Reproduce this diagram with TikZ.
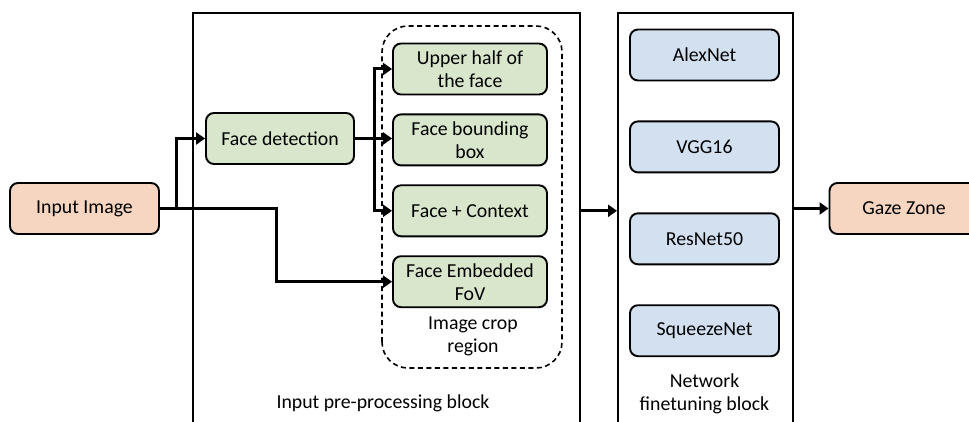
\documentclass[tikz,border=0pt]{standalone}
\usepackage{fontspec}
\setmainfont{Carlito}
\usetikzlibrary{positioning,arrows.meta}

\definecolor{peach}{HTML}{F6D6C0}
\definecolor{leaf}{HTML}{D8E6CB}
\definecolor{sky}{HTML}{D2E0F0}

\begin{document}
\begin{tikzpicture}[x=1pt, y=1pt, node distance=18pt,
  box/.style = {draw, line width=1.9pt, rounded corners=8pt, minimum height=51pt, align=center, inner sep=2pt},
  io/.style = {box, fill=peach, minimum width=149pt},
  crop/.style = {box, fill=leaf, minimum width=154pt},
  net/.style = {box, fill=sky, minimum width=149pt},
  block/.style = {draw, line width=1.6pt},
  arr/.style = {line width=3pt, -{Triangle[length=9pt, width=12pt]}},
  every node/.style = {font=\fontsize{19.8}{23}\selectfont}]
\clip (0,0) rectangle (969,421);

% blocks
\node[block, minimum width=387pt, minimum height=440pt, anchor=north west] (pre) at (192,409) {};
\node[block, minimum width=175pt, minimum height=440pt, anchor=north west] (fine) at (617,409) {};
\draw[dashed, line width=1.6pt, dash pattern=on 5pt off 3.5pt, rounded corners=26pt] (382,53) rectangle (562,395);

% nodes
\node[io] (in) at (84.5,212.5) {Input Image};
\node[crop, minimum width=148pt] (fd) at (280,282.5) {Face detection};
\node[crop] (up) at (470,352) {Upper half of\\the face};
\node[crop] (bb) [below=of up] {Face bounding\\box};
\node[crop] (ctx) [below=of bb] {Face + Context};
\node[crop] (fov) [below=of ctx] {Face Embedded\\FoV};
\node (crl) at (473,85) [align=center] {Image crop\\region};
\node (prel) at (383,18) {Input pre-processing block};

\node[net] (alex) at (704.5,366) {AlexNet};
\node[net] (vgg) [below=39pt of alex] {VGG16};
\node[net] (res) [below=39pt of vgg] {ResNet50};
\node[net] (sq) [below=39pt of res] {SqueezeNet};
\node (finel) at (704.5,27.5) [align=center] {Network\\finetuning block};

\node[io] (gz) at (904,212.5) {Gaze Zone};

% connectors
\draw[arr] (in.east) -- ++(17pt,0) |- (fd);
\draw[arr] (in.east) -- ++(117pt,0) |- (fov);
\draw[arr] (fd.east) -- (fd.east -| up.west);
\draw[line width=3pt] (fd.east) -- ++(20pt,0) coordinate (sp);
\draw[arr] (sp) |- (up);
\draw[arr] (sp) |- (ctx);
\draw[arr] (pre.east |- ctx) -- (fine.west |- ctx);
\draw[arr] (fine.east |- gz) -- (gz);
\end{tikzpicture}
\end{document}
